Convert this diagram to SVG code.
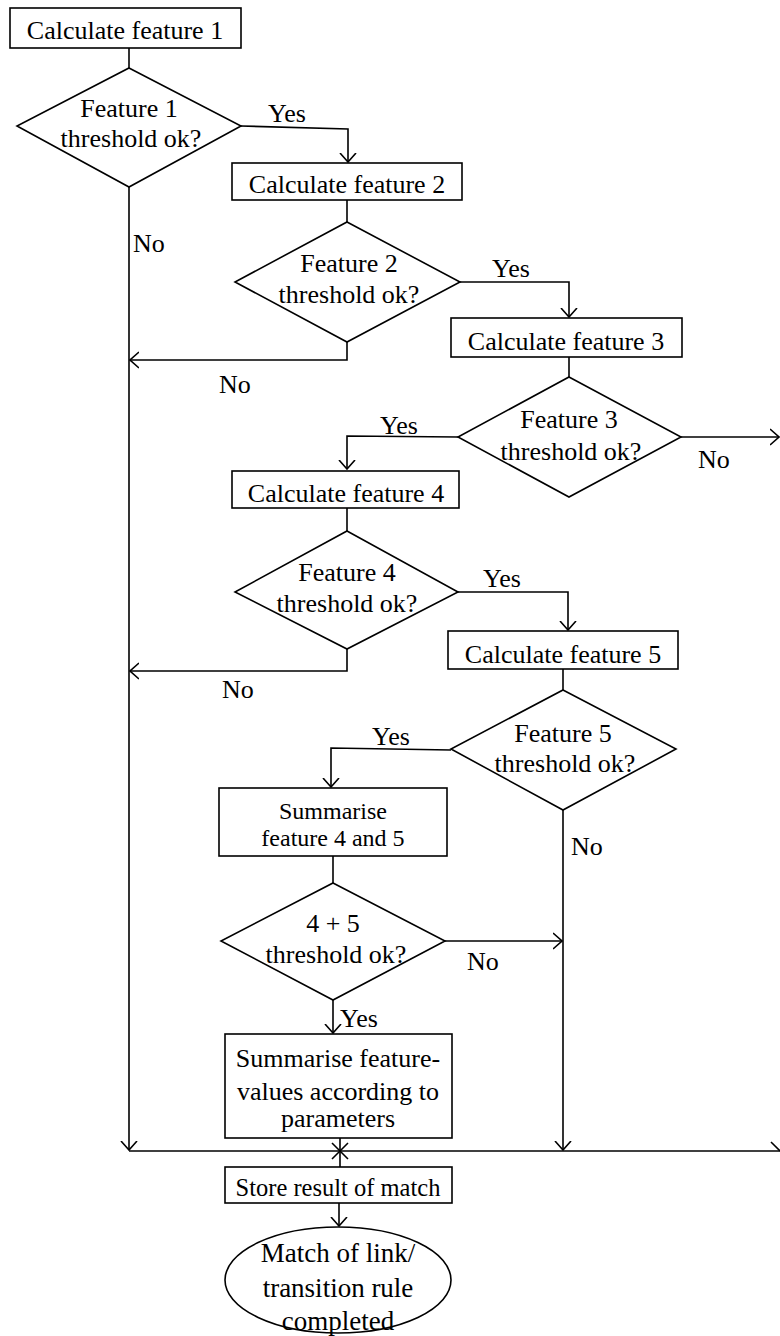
<svg xmlns="http://www.w3.org/2000/svg" width="780" height="1336" viewBox="0 0 780 1336">
<style>
.s{fill:#fff;stroke:#000;stroke-width:1.6}
.c{fill:none;stroke:#000;stroke-width:1.6}
text{font-family:"Liberation Serif","Times New Roman",serif;font-size:26px;fill:#000}
.m{text-anchor:middle}
</style>
<defs>
<marker id="a" markerUnits="userSpaceOnUse" markerWidth="10" markerHeight="18" viewBox="0 0 10 18" refX="9" refY="9" orient="auto">
<path d="M0,1 L9,9 L0,17" fill="none" stroke="#000" stroke-width="1.6"/>
</marker>
</defs>
<rect width="780" height="1336" fill="#fff"/>
<g id="connectors">
<path class="c" d="M129,48 V68"/>
<path class="c" d="M241,126 L348,129 V162" marker-end="url(#a)"/>
<path class="c" d="M347,200 V222"/>
<path class="c" d="M460,282 H569 V317" marker-end="url(#a)"/>
<path class="c" d="M347,342 V360 H130" marker-end="url(#a)"/>
<path class="c" d="M569,357 V377"/>
<path class="c" d="M458,437 L347,436 V469" marker-end="url(#a)"/>
<path class="c" d="M681,437 H779" marker-end="url(#a)"/>
<path class="c" d="M347,508 V531"/>
<path class="c" d="M458,592 H568 V630" marker-end="url(#a)"/>
<path class="c" d="M347,649 V671 H130" marker-end="url(#a)"/>
<path class="c" d="M563,669 V690"/>
<path class="c" d="M451,750 L331,748 V787" marker-end="url(#a)"/>
<path class="c" d="M563,810 V1150" marker-end="url(#a)"/>
<path class="c" d="M333,856 V883"/>
<path class="c" d="M445,941 H562" marker-end="url(#a)"/>
<path class="c" d="M333,1000 V1033" marker-end="url(#a)"/>
<path class="c" d="M129,187 V1150" marker-end="url(#a)"/>
<path class="c" d="M129,1151 H780"/>
<path class="c" d="M340,1138 V1167"/>
<path class="c" d="M332,1143 L348,1159 M348,1143 L332,1159"/>
<path class="c" d="M771,1142 L780,1151"/>
<path class="c" d="M339,1203 V1226" marker-end="url(#a)"/>
<text x="268" y="122">Yes</text>
<text x="133" y="252">No</text>
<text x="492" y="277">Yes</text>
<text x="219" y="393">No</text>
<text x="380" y="434">Yes</text>
<text x="698" y="468">No</text>
<text x="483" y="587">Yes</text>
<text x="222" y="698">No</text>
<text x="372" y="745">Yes</text>
<text x="571" y="855">No</text>
<text x="467" y="970">No</text>
<text x="340" y="1027">Yes</text>
</g>
<g id="box1">
<rect class="s" x="10" y="8" width="231" height="40"/>
<text class="m" x="125" y="39">Calculate feature 1</text>
</g>
<g id="dec1">
<polygon class="s" points="129,68 241,126 129,187 17,126"/>
<text class="m" x="129" y="117">Feature 1</text>
<text class="m" x="131" y="147">threshold ok?</text>
</g>
<g id="box2">
<rect class="s" x="232" y="163" width="230" height="37"/>
<text class="m" x="347" y="193">Calculate feature 2</text>
</g>
<g id="dec2">
<polygon class="s" points="347,222 460,282 347,342 235,282"/>
<text class="m" x="349" y="272">Feature 2</text>
<text class="m" x="349" y="303">threshold ok?</text>
</g>
<g id="box3">
<rect class="s" x="451" y="318" width="231" height="39"/>
<text class="m" x="566" y="350">Calculate feature 3</text>
</g>
<g id="dec3">
<polygon class="s" points="569,377 681,437 569,497 458,437"/>
<text class="m" x="569" y="428">Feature 3</text>
<text class="m" x="571" y="460">threshold ok?</text>
</g>
<g id="box4">
<rect class="s" x="232" y="471" width="227" height="37"/>
<text class="m" x="346" y="502">Calculate feature 4</text>
</g>
<g id="dec4">
<polygon class="s" points="347,531 458,592 347,649 235,592"/>
<text class="m" x="347" y="581">Feature 4</text>
<text class="m" x="347" y="612">threshold ok?</text>
</g>
<g id="box5">
<rect class="s" x="448" y="631" width="230" height="38"/>
<text class="m" x="563" y="663">Calculate feature 5</text>
</g>
<g id="dec5">
<polygon class="s" points="563,690 676,749 563,810 451,749"/>
<text class="m" x="563" y="742">Feature 5</text>
<text class="m" x="565" y="772">threshold ok?</text>
</g>
<g id="box6">
<rect class="s" x="219" y="788" width="228" height="68"/>
<text class="m" x="333" y="819" style="font-size:24px">Summarise</text>
<text class="m" x="333" y="846" style="font-size:24px">feature 4 and 5</text>
</g>
<g id="dec6">
<polygon class="s" points="333,883 445,941 333,1000 221,941"/>
<text class="m" x="333" y="932">4 + 5</text>
<text class="m" x="336" y="963">threshold ok?</text>
</g>
<g id="box7">
<rect class="s" x="225" y="1034" width="227" height="104"/>
<text class="m" x="338" y="1067" style="font-size:26px">Summarise feature-</text>
<text class="m" x="338" y="1100" style="font-size:26px">values according to</text>
<text class="m" x="338" y="1127" style="font-size:26px">parameters</text>
</g>
<g id="box8">
<rect class="s" x="225" y="1167" width="227" height="36"/>
<text class="m" x="338" y="1196" style="font-size:24.5px">Store result of match</text>
</g>
<g id="end">
<ellipse class="s" cx="338" cy="1280" rx="113" ry="53"/>
<text class="m" x="338" y="1262" style="font-size:27px">Match of link/</text>
<text class="m" x="338" y="1297" style="font-size:27px">transition rule</text>
<text class="m" x="338" y="1330" style="font-size:27px">completed</text>
</g>
</svg>
